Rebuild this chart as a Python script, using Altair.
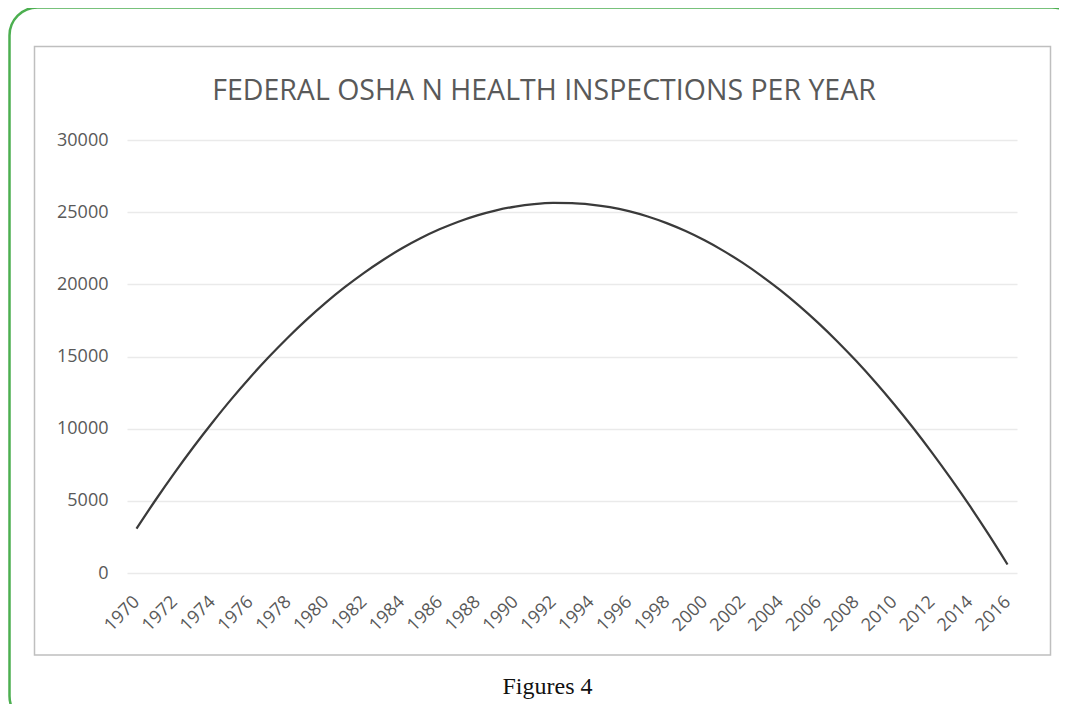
import altair as alt
import pandas as pd

years = list(range(1970, 2017))
inspections = [
    3070, 5040, 6920, 8710, 10410, 12030, 13550, 14980, 16320, 17570,
    18730, 19800, 20780, 21670, 22480, 23190, 23810, 24340, 24780, 25130,
    25390, 25560, 25640, 25630, 25530, 25350, 25070, 24700, 24240, 23690,
    23050, 22320, 21500, 20590, 19600, 18510, 17330, 16060, 14700, 13250,
    11710, 10080, 8360, 6550, 4660, 2670, 590,
]
tick_years = years[::2]
y_ticks = [0, 5000, 10000, 15000, 20000, 25000, 30000]
title_text = "FEDERAL OSHA N HEALTH INSPECTIONS PER YEAR"
caption_text = "Figures 4"

df = pd.DataFrame({"year": years, "inspections": inspections})
one = pd.DataFrame({"k": [0]})

# page coordinates of plot origin
OX, OY = 127, 140
W, H = 890, 433


def px(x):
    return x - OX


def py(y):
    return y - OY


green_frame = alt.Chart(one).mark_rect(
    fill="transparent", stroke="#4CAF50", strokeWidth=2.5, cornerRadius=28
).encode(
    x=alt.value(px(9.5)), x2=alt.value(px(1080)),
    y=alt.value(py(7.5)), y2=alt.value(py(724)),
)

gray_box = alt.Chart(one).mark_rect(
    fill="transparent", stroke="#BFBFBF", strokeWidth=1.5
).encode(
    x=alt.value(px(34.5)), x2=alt.value(px(1050.5)),
    y=alt.value(py(46.5)), y2=alt.value(py(655)),
)

title = alt.Chart(one).mark_text(
    text=title_text, font="Open Sans", fontSize=28.5, color="#595959",
    align="center", baseline="middle",
).encode(x=alt.value(px(544)), y=alt.value(py(91)))

caption = alt.Chart(one).mark_text(
    text=caption_text, font="Liberation Serif", fontSize=24, color="#111111",
    align="center", baseline="alphabetic",
).encode(x=alt.value(px(547.5)), y=alt.value(py(694)))

line = alt.Chart(df).mark_line(
    color="#3a3a3a", strokeWidth=2.25, interpolate="monotone"
).encode(
    x=alt.X(
        "year:O",
        scale=alt.Scale(type="point", padding=0.5),
        axis=alt.Axis(
            values=tick_years, labelAngle=-45, labelAlign="right",
            labelBaseline="middle", labelPadding=26, labelOffset=0,
            labelFontSize=18, grid=False,
            domain=False, ticks=False, title=None,
        ),
    ),
    y=alt.Y(
        "inspections:Q",
        scale=alt.Scale(domain=[0, 30000], nice=False),
        axis=alt.Axis(
            values=y_ticks, format="d", grid=True, gridColor="#EAEAEA",
            gridWidth=1.5, domain=False, ticks=False, labelPadding=19,
            labelFontSize=18, title=None,
        ),
    ),
)

chart = alt.layer(green_frame, gray_box, title, caption, line).properties(
    width=W, height=H,
    autosize=alt.AutoSizeParams(type="none"),
    padding={"left": OX - 8, "top": OY - 8, "right": 1051 - (OX - 8) - W, "bottom": 696 - (OY - 8) - H},
).configure_view(stroke=None).configure_axis(
    labelFont="Open Sans", labelColor="#595959"
)

chart.save("out.html", embed_options={"renderer": "svg", "actions": False})
